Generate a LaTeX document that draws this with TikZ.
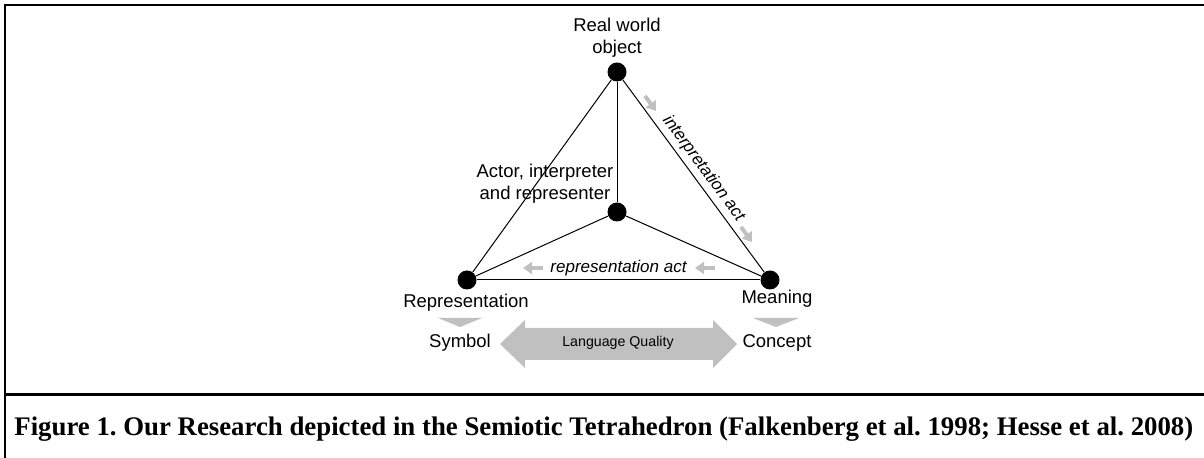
\documentclass[tikz,border=0pt]{standalone}
\usepackage{fontspec}
\setmainfont{Liberation Sans}
\newfontfamily\capfont{Liberation Serif}
\usepackage{tikz}
\usetikzlibrary{shapes,arrows.meta,positioning,calc}
\definecolor{arrowgray}{RGB}{192,192,192}
\frenchspacing

\begin{document}
\begin{tikzpicture}[x=0.5pt, y=-0.5pt, every node/.style={font=\fontsize{9.25}{11}\selectfont},
    dot/.style={circle, fill=black, inner sep=0pt, minimum size=9.5pt},
    actarrow/.style={arrowgray, line width=2pt, -{Triangle[width=6pt,length=4.5pt]}}]
    \useasboundingbox (0,0) rectangle (1204,458);

    % Frame
    \draw[line width=1pt] (5,458) -- (5,5) -- (1204,5);
    \draw[line width=1.5pt] (5,395) -- (1204,395);

    % Corners of the tetrahedron
    \node[dot] (obj) at (617,72) {};
    \node[dot] (actor) at (617,212) {};
    \node[dot] (repr) at (467,280) {};
    \node[dot] (mean) at (770,280) {};

    % Labels
    \node[align=center] (objlbl) at (617,38) {Real world\\object};
    \node[align=center] (actorlbl) at (545,184) {Actor, interpreter\\and representer};
    \node (reprlbl) at (466,303) {Representation};
    \node (meanlbl) at (777,299) {Meaning};
    \node (symbol) at (460,343) {Symbol};
    \node (concept) at (777,343) {Concept};

    % Edges
    \draw[line width=0.5pt] (obj) -- (repr);
    \draw[line width=0.5pt] (obj) -- (actor);
    \draw[line width=0.5pt] (actor) -- (repr);
    \draw[line width=0.5pt] (actor) -- (mean);
    \draw[line width=0.5pt] (repr) -- node[above, inner sep=1.5pt, font=\fontsize{8.5}{10}\selectfont\itshape] (repract) {representation act} (mean);
    \draw[line width=0.5pt] (obj) -- node[sloped, above, inner sep=2pt, font=\fontsize{8.5}{10}\selectfont\itshape] (interpact) {interpretation act} (mean);

    % Gray direction arrows
    \draw[actarrow] (645,96) -- (656,111);
    \draw[actarrow] (741,227) -- (752,242);
    \draw[actarrow] (543,268) -- (523,268);
    \draw[actarrow] (715,268) -- (695,268);

    % Chevrons
    \fill[arrowgray] (438,318) -- (482,318) -- (460,327) -- cycle;
    \fill[arrowgray] (753,318) -- (799,318) -- (776,327) -- cycle;

    % Language quality arrow
    \fill[arrowgray] (500,344) -- (525,320) -- (525,328) -- (713,328) -- (713,320) -- (737,344)
        -- (713,368) -- (713,360) -- (525,360) -- (525,368) -- cycle;
    \node[font=\fontsize{7.1}{9}\selectfont] (lq) at (618,343) {Language Quality};

    % Caption
    \node[anchor=base west, inner sep=0pt, font=\capfont\bfseries\fontsize{13.4}{15}\selectfont] (caption) at (14,436)
        {Figure 1. Our Research depicted in the Semiotic Tetrahedron (Falkenberg et al. 1998; Hesse et al. 2008)};
\end{tikzpicture}
\end{document}
